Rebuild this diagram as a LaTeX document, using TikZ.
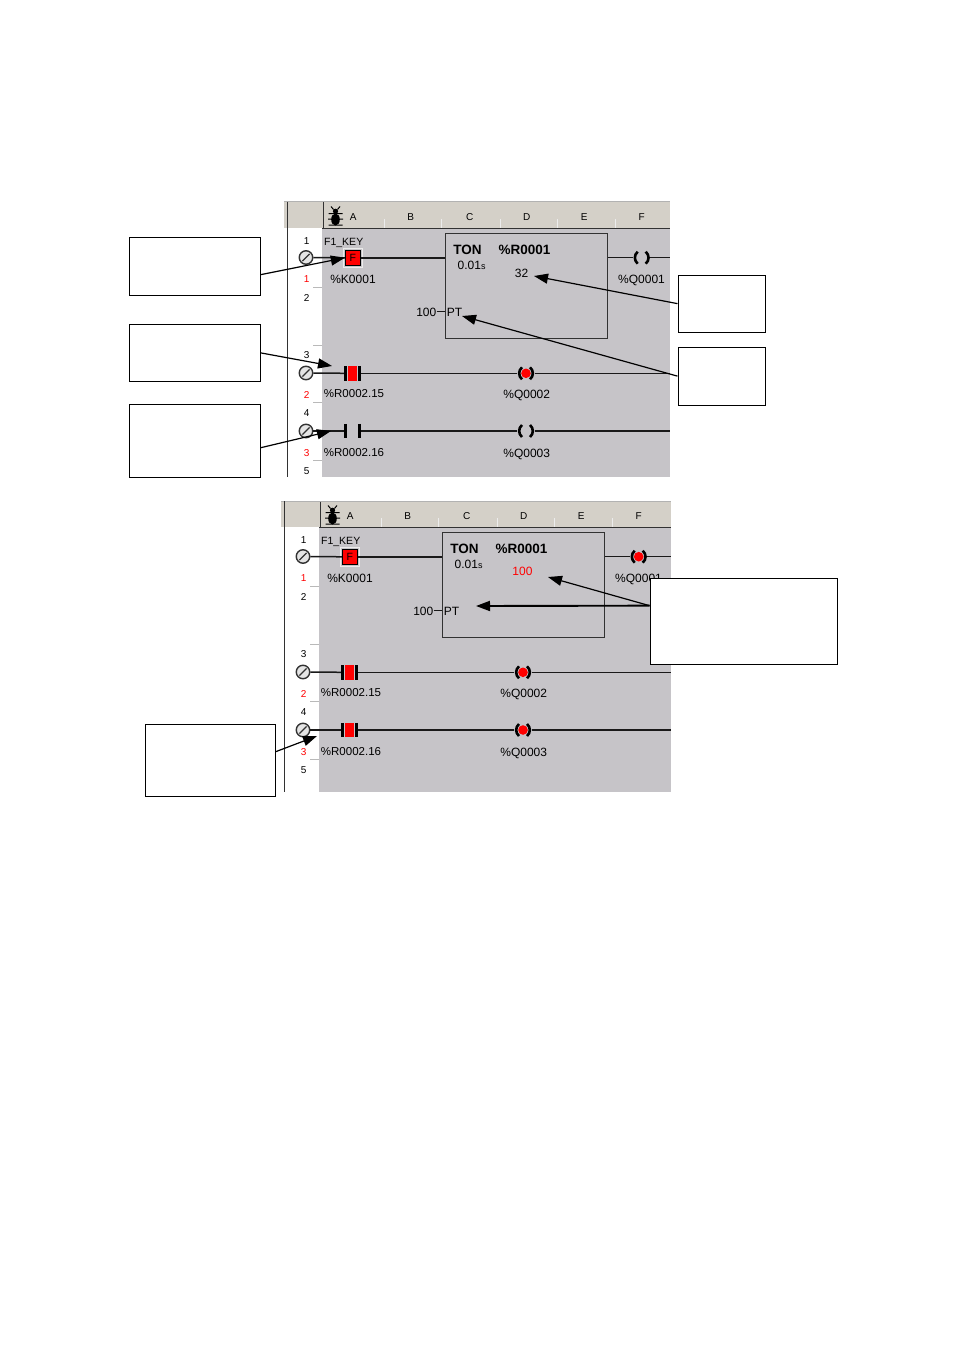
\documentclass[tikz,border=0pt]{standalone}
\usepackage{fontspec}
\setmainfont{Liberation Sans}
\usetikzlibrary{arrows.meta}
\definecolor{hdr}{RGB}{212,208,200}
\definecolor{lad}{RGB}{198,196,200}
\definecolor{dk}{RGB}{50,50,50}
\definecolor{icn}{RGB}{228,228,228}
\definecolor{plcred}{RGB}{255,0,0}
\tikzset{
 rung/.style={line width=1.5pt, draw=black!90},
 lab/.style={inner sep=0pt, font=\fontsize{12}{12}\selectfont, text height=8.6pt, text depth=0pt},
 smlab/.style={inner sep=0pt, font=\fontsize{10}{10}\selectfont, text height=7.2pt, text depth=0pt},
 rednum/.style={smlab, text=plcred},
 boldlab/.style={inner sep=0pt, font=\fontsize{13.5}{13.5}\selectfont\bfseries, text height=9.7pt, text depth=0pt},
 note/.style={draw=black, line width=1.3pt, fill=white, inner sep=0pt, anchor=north west},
 ptr/.style={line width=1.2pt, draw=black, -{Triangle[length=14pt,width=10pt]}},
 icon/.style={circle, draw=dk, fill=icn, line width=1.4pt, minimum size=13.5pt, inner sep=0pt},
 contact/.style={inner sep=0pt, minimum width=13pt, minimum height=14pt},
 coil/.style={inner sep=0pt, minimum width=17pt, minimum height=12pt},
 cbar/.style={line width=2.8pt, draw=black},
 paren/.style={line width=2.6pt, draw=black},
 hdrtick/.style={draw=white!85!gray, line width=1pt},
 rowtick/.style={draw=gray!55, line width=1pt},
}
\newcommand{\coilparens}[1]{%
 \draw[paren] ([shift={(-4,-6)}]#1.center) .. controls +(-3.8,3.2) and +(-3.8,-3.2) .. ([shift={(-4,6)}]#1.center);
 \draw[paren] ([shift={(4,-6)}]#1.center) .. controls +(3.8,3.2) and +(3.8,-3.2) .. ([shift={(4,6)}]#1.center);
}
\newcommand{\contactbars}[1]{%
 \draw[cbar] (#1.north west) -- (#1.south west);
 \draw[cbar] (#1.north east) -- (#1.south east);
}
\newcommand{\ladpanel}[3]{%
 \fill[hdr] (284,201.5) rectangle (#2,228);
 \fill[white] (287,228) rectangle (322,#3);
 \fill[lad] (322,228) rectangle (#2,#3);
 \draw[gray!60, line width=1pt] (284,202) -- (#2,202);
 \draw[dk, line width=1.5pt] (287.5,202) -- (287.5,#3);
 \draw[dk, line width=1.3pt] (323.5,202.5) -- (323.5,228);
 \draw[dk, line width=1.2pt] (322,228.5) -- (#2,228.5);
 \foreach \tx in {384,441,500,557,615} {\draw[hdrtick] (\tx,219) -- (\tx,227.5);}
 \node[smlab] (#1hA) at (353.3,216.7) {A};
 \node[smlab] (#1hB) at (410.7,216.7) {B};
 \node[smlab] (#1hC) at (469.7,216.7) {C};
 \node[smlab] (#1hD) at (526.7,216.7) {D};
 \node[smlab] (#1hE) at (584.3,216.7) {E};
 \node[smlab] (#1hF) at (641.7,216.7) {F};
 % bug icon
 \fill[black] (335.5,219.5) ellipse [x radius=4.3, y radius=6];
 \fill[black] (335.5,211.3) circle [radius=2.6];
 \draw[black, line width=1pt] (328.5,213.5) -- (342.5,213.5) (328,219) -- (343,219) (328.5,225) -- (342.5,225) (333.5,209.5) -- (331,206.5) (337.5,209.5) -- (340,206.5);
 % row numbers
 \node[smlab] (#1r1) at (306.7,240.5) {1};
 \node[rednum] (#1s1) at (306.7,279) {1};
 \node[smlab] (#1r2) at (306.7,297.7) {2};
 \node[smlab] (#1r3) at (306.7,355) {3};
 \node[rednum] (#1s2) at (306.7,394.5) {2};
 \node[smlab] (#1r4) at (306.7,412.7) {4};
 \node[rednum] (#1s3) at (306.7,452.5) {3};
 \node[smlab] (#1r5) at (306.7,470.7) {5};
 \foreach \ty in {287,345,402,460} {\draw[rowtick] (313,\ty) -- (322,\ty);}
 % rung icons
 \node[icon] (#1c1) at (306,257.5) {};
 \node[icon] (#1c2) at (306,373) {};
 \node[icon] (#1c3) at (306,431) {};
 \foreach \cc in {#1c1,#1c2,#1c3} {\draw[dk, line width=1.3pt] ([shift={(-3.6,3.6)}]\cc.center) -- ([shift={(3.6,-3.6)}]\cc.center);}
 % rung 1
 \node[lab, font=\fontsize{10.5}{10.5}\selectfont, text height=7.6pt] (#1key) at (343.7,241.5) {F1\_KEY};
 \node[draw=black, fill=plcred, text=black, line width=1pt, minimum width=15pt, minimum height=14.5pt, inner sep=0pt, font=\fontsize{10.5}{10.5}\selectfont] (#1k1) at (352.8,257.8) {F};
 \draw[gray!15, line width=0.8pt] ([shift={(-1.4,-1.4)}]#1k1.north west) rectangle ([shift={(1.4,1.4)}]#1k1.south east);
 \node[lab] (#1kn) at (353,279.3) {\%K0001};
 \node[draw=dk, line width=1.3pt, minimum width=162pt, minimum height=105pt, anchor=north west, inner sep=0pt] (#1ton) at (445,233) {};
 \node[boldlab] (#1tt) at (467.5,249.3) {TON};
 \node[boldlab] (#1tr) at (524.5,249.7) {\%R0001};
 \node[lab, anchor=west] (#1tb) at (457.5,265.5) {0.01{\fontsize{9}{9}\selectfont s}};
 \node[lab, anchor=east] (#1pv) at (436.5,311.7) {100};
 \node[lab] (#1pt) at (454.5,311.7) {PT};
 \draw[rung] (#1pv.east) -- (#1pv.east -| #1ton.west);
 \node[coil] (#1q1) at (641.7,257.7) {};
 \coilparens{#1q1}
 \node[lab] (#1qn1) at (641.5,279.5) {\%Q0001};
 \coordinate (#1e1) at (#2,257.7);
 \draw[rung] (#1c1.east) -- (#1k1.west);
 \draw[rung] (#1k1.east) -- (#1k1.east -| #1ton.west);
 \draw[rung] (#1ton.east |- #1q1) -- (#1q1.west);
 \draw[rung] (#1q1.east) -- (#1e1);
 % rung 2
 \node[contact] (#1k2) at (352.5,373.3) {};
 \node[coil] (#1q2) at (526,373.3) {};
 \coordinate (#1e2) at (#2,373.3);
 \draw[rung] (#1c2.east) -- (#1k2.west);
 \draw[rung] (#1k2.east) -- (#1q2.west);
 \draw[rung] (#1q2.east) -- (#1e2);
 \node[lab, font=\fontsize{11.5}{11.5}\selectfont, text height=8.3pt] (#1kn2) at (354,393.8) {\%R0002.15};
 \node[lab] (#1qn2) at (526.7,393.8) {\%Q0002};
 % rung 3
 \node[contact] (#1k3) at (352.5,431) {};
 \node[coil] (#1q3) at (526,431) {};
 \coordinate (#1e3) at (#2,431);
 \draw[rung] (#1c3.east) -- (#1k3.west);
 \draw[rung] (#1k3.east) -- (#1q3.west);
 \draw[rung] (#1q3.east) -- (#1e3);
 \node[lab, font=\fontsize{11.5}{11.5}\selectfont, text height=8.3pt] (#1kn3) at (354,452.8) {\%R0002.16};
 \node[lab] (#1qn3) at (526.7,452.8) {\%Q0003};
}
\begin{document}
\begin{tikzpicture}[x=1pt, y=-1pt]
\useasboundingbox (0,0) rectangle (954,1351);
\fill[white] (0,0) rectangle (954,1351);
% ---------- top panel ----------
\begin{scope}
 \ladpanel{a}{670}{477}
 \node[lab] (a32) at (521.5,273) {32};
 \fill[plcred] ([xshift=1.8pt]ak2.north west) rectangle ([xshift=-1.8pt]ak2.south east);
 \contactbars{ak2}
 \coilparens{aq2}
 \fill[plcred] (aq2.center) circle [radius=4.8];
 \contactbars{ak3}
 \coilparens{aq3}
 \coordinate (at2) at (332,366);
 \coordinate (at3) at (331,431);
 \coordinate (at32) at (534,276);
 \coordinate (atpt) at (462,316);
\end{scope}
% ---------- bottom panel ----------
\begin{scope}[shift={(-3,299)}]
 \ladpanel{b}{674}{493}
 \node[lab, text=plcred] (b100) at (525.5,272) {100};
 \fill[plcred] (bq1.center) circle [radius=4.8];
 \fill[plcred] ([xshift=1.8pt]bk2.north west) rectangle ([xshift=-1.8pt]bk2.south east);
 \contactbars{bk2}
 \coilparens{bq2}
 \fill[plcred] (bq2.center) circle [radius=4.8];
 \fill[plcred] ([xshift=1.8pt]bk3.north west) rectangle ([xshift=-1.8pt]bk3.south east);
 \contactbars{bk3}
 \coilparens{bq3}
 \fill[plcred] (bq3.center) circle [radius=4.8];
 \coordinate (bt100) at (551,278);
 \coordinate (btpt) at (479,307);
 \coordinate (bt3) at (320,437);
\end{scope}
% ---------- callout boxes ----------
\node[note, minimum width=130.5pt, minimum height=58pt] (L1) at (129,236.5) {};
\node[note, minimum width=130.5pt, minimum height=57.5pt] (L2) at (129,323.5) {};
\node[note, minimum width=130.5pt, minimum height=72.5pt] (L3) at (129,404) {};
\node[note, minimum width=87pt, minimum height=57pt] (R1) at (677.5,274.5) {};
\node[note, minimum width=87pt, minimum height=58pt] (R2) at (677.5,346.5) {};
\node[note, minimum width=187pt, minimum height=86pt] (BR) at (649.5,577.5) {};
\node[note, minimum width=130pt, minimum height=72pt] (BL) at (144.5,723.5) {};
% ---------- pointers ----------
\draw[ptr] ([yshift=-8.5pt]L1.east) -- (ak1.west);
\draw[ptr] (L2.east) -- (at2);
\draw[ptr] ([yshift=-6.8pt]L3.east) -- (at3);
\draw[ptr] (R1.west) -- (at32);
\draw[ptr] (R2.west) -- (atpt);
\draw[ptr] ([yshift=15.5pt]BR.west) -- (bt100);
\draw[ptr, line width=1.9pt] ([yshift=15.5pt]BR.west) -- (btpt);
\draw[ptr] ([yshift=8.5pt]BL.east) -- (bt3);
\end{tikzpicture}
\end{document}
